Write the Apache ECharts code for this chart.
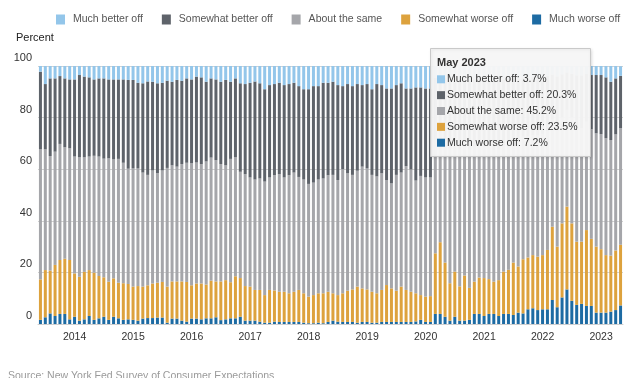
<!DOCTYPE html>
<html>
<head>
<meta charset="utf-8">
<script src="https://cdn.jsdelivr.net/npm/echarts@6/dist/echarts.min.js"></script>
<style>
html,body{margin:0;padding:0;background:#fff;}
#c{width:640px;height:378px;}
</style>
</head>
<body>
<div id="c"></div>
<script>
var categories = [
'Jun 2013','Jul 2013','Aug 2013','Sep 2013','Oct 2013','Nov 2013','Dec 2013',
'Jan 2014','Feb 2014','Mar 2014','Apr 2014','May 2014','Jun 2014','Jul 2014','Aug 2014','Sep 2014','Oct 2014','Nov 2014','Dec 2014',
'Jan 2015','Feb 2015','Mar 2015','Apr 2015','May 2015','Jun 2015','Jul 2015','Aug 2015','Sep 2015','Oct 2015','Nov 2015','Dec 2015',
'Jan 2016','Feb 2016','Mar 2016','Apr 2016','May 2016','Jun 2016','Jul 2016','Aug 2016','Sep 2016','Oct 2016','Nov 2016','Dec 2016',
'Jan 2017','Feb 2017','Mar 2017','Apr 2017','May 2017','Jun 2017','Jul 2017','Aug 2017','Sep 2017','Oct 2017','Nov 2017','Dec 2017',
'Jan 2018','Feb 2018','Mar 2018','Apr 2018','May 2018','Jun 2018','Jul 2018','Aug 2018','Sep 2018','Oct 2018','Nov 2018','Dec 2018',
'Jan 2019','Feb 2019','Mar 2019','Apr 2019','May 2019','Jun 2019','Jul 2019','Aug 2019','Sep 2019','Oct 2019','Nov 2019','Dec 2019',
'Jan 2020','Feb 2020','Mar 2020','Apr 2020','May 2020','Jun 2020','Jul 2020','Aug 2020','Sep 2020','Oct 2020','Nov 2020','Dec 2020',
'Jan 2021','Feb 2021','Mar 2021','Apr 2021','May 2021','Jun 2021','Jul 2021','Aug 2021','Sep 2021','Oct 2021','Nov 2021','Dec 2021',
'Jan 2022','Feb 2022','Mar 2022','Apr 2022','May 2022','Jun 2022','Jul 2022','Aug 2022','Sep 2022','Oct 2022','Nov 2022','Dec 2022',
'Jan 2023','Feb 2023','Mar 2023','Apr 2023','May 2023'
];

var seriesNames = ['Much better off','Somewhat better off','About the same','Somewhat worse off','Much worse off'];

var muchWorse = [
1.6,2.6,4.1,3.1,3.9,3.9,1.8,2.8,1.3,1.8,
3.1,1.6,2.2,2.8,1.6,2.8,2.2,1.6,1.8,1.6,
1.3,2.1,2.3,2.3,2.5,2.5,0.5,2.1,2.1,1.3,
0.9,2.1,2.1,1.8,2.2,2.2,2.6,1.5,1.8,2.2,
2.2,2.8,1.3,1.3,1.3,0.9,0.5,0.5,0.9,0.8,
0.8,0.8,0.8,0.8,0.5,0.3,0.3,0.5,0.3,0.8,
1.3,0.9,0.8,0.8,0.8,0.5,0.8,0.8,0.5,0.5,
0.8,0.8,0.8,0.8,0.8,0.8,0.8,1.0,1.6,0.8,
0.8,3.9,3.9,2.8,1.3,2.8,1.3,1.3,1.6,3.9,
3.9,3.1,3.9,3.9,3.1,3.9,3.9,3.5,4.4,4.1,
5.7,6.1,5.4,5.7,5.7,9.3,6.5,10.3,13.4,9.0,
7.4,7.8,7.0,7.0,4.4,4.4,4.4,4.8,5.4,7.2
];

var somewhatWorse = [
15.7,18.3,16.6,19.8,20.9,21.4,23.0,16.8,17.0,18.4,
17.8,18.3,16.4,15.3,14.8,14.9,13.8,14.2,13.7,12.9,
13.4,12.4,12.7,13.4,13.5,13.8,14.0,14.4,14.4,15.2,
15.4,12.9,13.6,13.9,13.1,14.6,13.9,15.0,15.2,14.0,
16.3,15.0,13.4,13.2,11.9,12.3,10.7,12.7,12.1,11.7,
11.7,11.1,11.7,12.4,11.4,10.3,10.9,11.4,11.6,11.7,
10.6,10.3,11.1,12.1,12.6,14.0,13.0,12.6,12.0,11.4,
12.4,14.3,13.0,12.1,13.7,12.4,11.7,10.9,9.6,9.8,
10.0,23.5,27.8,21.0,14.5,17.5,13.3,17.5,12.4,12.5,
14.1,14.7,13.5,12.5,13.9,16.4,17.1,20.3,17.9,21.0,
20.1,20.6,20.7,21.0,23.0,28.4,23.5,28.7,32.1,30.0,
24.5,24.1,29.4,26.0,25.6,24.6,22.3,21.7,23.1,23.5
];

var aboutSame = [
50.4,46.8,44.4,43.9,45.0,43.2,43.3,45.3,46.3,44.4,
44.0,45.3,46.3,46.0,47.8,46.1,48.0,46.7,44.7,45.8,
45.6,44.2,42.8,43.8,42.5,43.2,46.0,45.0,44.5,45.5,
46.2,47.3,46.9,46.3,47.7,47.7,47.0,45.5,44.5,47.8,
46.1,41.2,43.4,42.3,42.8,43.2,44.0,43.6,44.7,45.6,
44.3,45.8,46.2,43.8,44.1,43.7,43.6,44.1,44.5,45.2,
45.9,44.6,48.1,45.5,44.4,44.9,47.2,46.9,45.3,45.3,
45.2,40.7,40.7,44.9,44.2,48.0,47.4,43.7,46.2,46.2,
46.0,44.0,42.5,47.0,52.5,50.0,53.0,51.5,53.5,52.5,
51.5,51.0,51.5,51.0,50.5,49.0,49.5,48.0,48.5,47.5,
47.0,46.5,47.0,47.0,46.0,41.5,45.0,41.0,37.5,41.0,
44.5,44.0,42.0,42.5,43.9,44.6,45.3,44.8,45.0,45.2
];

var somewhatBetter = [
30.1,25.3,30.1,28.4,26.3,26.7,26.7,29.9,31.9,31.3,
30.7,29.6,30.3,31.1,30.6,31.0,30.8,32.3,34.4,34.3,
33.2,34.6,36.2,34.4,34.8,34.0,33.8,32.4,33.6,32.3,
32.7,32.5,33.3,33.6,30.9,30.7,31.3,31.9,33.1,29.9,
30.6,34.3,34.9,36.7,38.0,36.9,35.8,35.8,35.3,35.4,
35.8,35.3,34.8,35.2,35.0,36.7,37.4,36.2,37.1,35.8,
36.1,36.8,32.2,34.6,34.4,33.6,31.6,32.7,33.2,35.8,
34.2,35.5,36.8,34.8,34.6,30.1,31.4,36.1,34.3,34.5,
34.5,24.0,21.0,24.5,26.5,25.0,27.0,25.0,27.0,26.0,
25.5,26.0,25.5,27.0,27.0,25.5,24.5,23.5,24.5,23.0,
23.0,22.5,22.5,22.0,21.5,17.5,21.0,16.8,14.5,17.0,
20.0,20.5,18.5,21.0,22.6,22.9,23.6,22.6,21.7,20.3
];

var muchBetter = [
2.2,7.0,4.8,4.8,3.9,4.8,5.2,5.2,3.5,4.1,
4.4,5.2,4.8,4.8,5.2,5.2,5.2,5.2,5.4,5.4,
6.5,6.7,6.0,6.1,6.7,6.5,5.7,6.1,5.4,5.7,
4.8,5.2,4.1,4.4,6.1,4.8,5.2,6.1,5.4,6.1,
4.8,6.7,7.0,6.5,6.0,6.7,9.0,7.4,7.0,6.5,
7.4,7.0,6.5,7.8,9.0,9.0,7.8,7.8,6.5,6.5,
6.1,7.4,7.8,7.0,7.8,7.0,7.4,7.0,9.0,7.0,
7.4,8.7,8.7,7.4,6.7,8.7,8.7,8.3,8.3,8.7,
8.7,4.6,4.8,4.7,5.2,4.7,5.4,4.7,5.5,5.1,
5.0,5.2,5.6,5.6,5.5,5.2,5.0,4.7,4.7,4.4,
4.2,4.3,4.4,4.3,3.8,3.3,4.0,3.2,2.5,3.0,
3.6,3.6,3.1,3.5,3.5,3.5,4.4,6.1,4.8,3.7
];

var yTicks = [0, 20, 40, 60, 80, 100];
var colors = ['#93c6ea','#5e636a','#a5a6aa','#dda23d','#1d6ba3'];
var FONT = '"Liberation Sans", Arial, sans-serif';

var chart = echarts.init(document.getElementById('c'), null, {renderer:'canvas'});

var stackOrder = [
  {name: seriesNames[4], data: muchWorse, color: colors[4]},
  {name: seriesNames[3], data: somewhatWorse, color: colors[3]},
  {name: seriesNames[2], data: aboutSame, color: colors[2]},
  {name: seriesNames[1], data: somewhatBetter, color: colors[1]},
  {name: seriesNames[0], data: muchBetter, color: colors[0]}
];

var series = stackOrder.map(function(s){
  return {
    name: s.name, type: 'bar', stack: 'all', data: s.data,
    barWidth: 3,
    itemStyle: {color: s.color},
    emphasis: {disabled: true}
  };
});

// Static tooltip box for the last month
var last = categories.length - 1;
var tipVals = [muchBetter[last], somewhatBetter[last], aboutSame[last], somewhatWorse[last], muchWorse[last]];
var tipX = 430, tipY = 48;
var graphics = [
  {type:'rect', z: 100, shape:{x: tipX + 0.5, y: tipY + 0.5, width: 160, height: 108},
   style:{fill:'rgba(247,247,247,0.96)', stroke:'#c9c9c9', lineWidth:1,
          shadowBlur: 3, shadowColor:'rgba(0,0,0,0.12)', shadowOffsetX:1, shadowOffsetY:1}},
  {type:'text', z: 101, x: tipX + 7, y: tipY + 15,
   style:{text: categories[last], font: 'bold 11px ' + FONT, fill:'#333', verticalAlign:'middle'}}
];
for (var k = 0; k < 5; k++) {
  var cy = tipY + 31.3 + k * 15.85;
  graphics.push({type:'rect', z:101, shape:{x: tipX + 7, y: cy - 4, width: 8, height: 8}, style:{fill: colors[k]}});
  graphics.push({type:'text', z:101, x: tipX + 17, y: cy,
    style:{text: seriesNames[k] + ': ' + tipVals[k].toFixed(1) + '%', font: '10.5px ' + FONT, fill:'#333', verticalAlign:'middle'}});
}
graphics.push({type:'text', x: 8, y: 371, style:{text:'Source: New York Fed Survey of Consumer Expectations', font:'10.5px ' + FONT, fill:'#9a9a9a'}});
graphics.push({type:'text', x: 16, y: 38, style:{text:'Percent', font:'11px ' + FONT, fill:'#222', verticalAlign:'middle'}});

chart.setOption({
  animation: false,
  backgroundColor: '#ffffff',
  textStyle: {fontFamily: FONT},
  legend: {
    data: seriesNames,
    left: 56, top: 14, padding: 0,
    icon: 'rect', itemWidth: 9, itemHeight: 10, itemGap: 19,
    selectedMode: false,
    textStyle: {fontSize: 10.5, color: '#555', padding: [0,0,0,3], fontFamily: FONT}
  },
  grid: {left: 38, right: 17, top: 66, bottom: 54, containLabel: false},
  xAxis: {
    type: 'category', data: categories,
    axisLine: {show: true, lineStyle: {color: '#cfcfcf'}},
    axisTick: {show: false},
    axisLabel: {
      interval: function(idx, val){ return val.indexOf('Jan') === 0; },
      formatter: function(val){ return val.slice(4); },
      fontSize: 10.5, color: '#333', margin: 8, fontFamily: FONT
    }
  },
  yAxis: {
    type: 'value', min: 0, max: 100, interval: 20,
    axisLine: {show: false}, axisTick: {show: false},
    splitLine: {lineStyle: {color: '#d2d2d2'}},
    axisLabel: {fontSize: 11, color: '#333', margin: 6, verticalAlign: 'bottom', lineHeight: 12, padding: [0,0,2,0], fontFamily: FONT,
      formatter: function(v){ return yTicks.indexOf(v) >= 0 ? String(v) : ''; }}
  },
  series: series,
  graphic: graphics
});
</script>
</body>
</html>
